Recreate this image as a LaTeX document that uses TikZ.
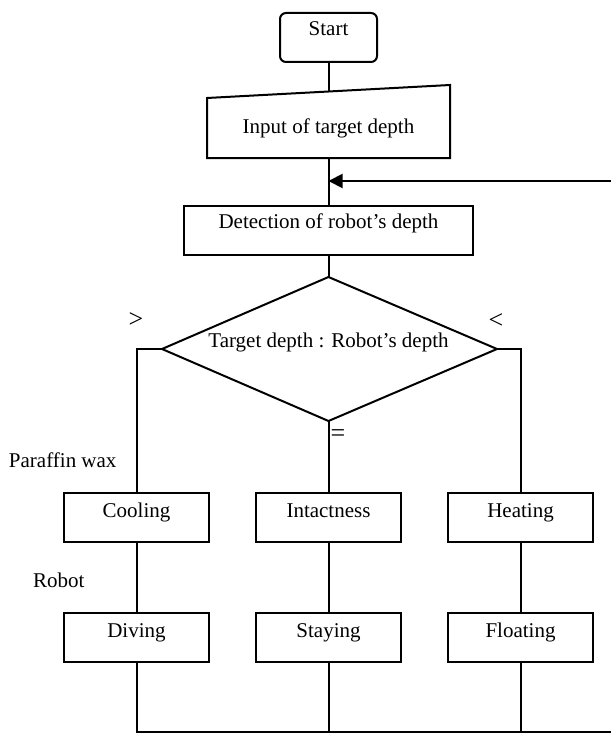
\documentclass[tikz,border=0pt]{standalone}
\usepackage{fontspec}
\setmainfont{Liberation Serif}
\usetikzlibrary{arrows.meta,calc}
\begin{document}
\begin{tikzpicture}[x=1pt,y=-1pt,line width=2pt,
  every node/.style={font=\fontsize{21}{25}\selectfont,inner sep=0pt},
  boxA/.style={draw,rectangle,text height=24pt,text depth=25pt,minimum width=145pt,anchor=base},
  lbl/.style={anchor=base west},
  sym/.style={font=\fontsize{26}{30}\selectfont}]
\useasboundingbox (0,0) rectangle (611,733);
% start
\node[draw,rounded corners=6pt,text height=23pt,text depth=26pt,minimum width=97pt,anchor=base] (start) at (328.5,36) {Start};
% input (trapezoid)
\node[rectangle,text height=34pt,text depth=24pt,minimum width=241pt,anchor=base] (input) at (328.5,133) {Input of target depth};
\draw (input.south west) -- (input.south east) -- ([yshift=13pt]input.north east) -- (input.north west) -- cycle;
\coordinate (intop) at ($(input.north)+(0,-6.5)$);
% detection
\node[draw,rectangle,text height=22pt,text depth=27pt,minimum width=289pt,anchor=base] (detect) at (328.5,228) {Detection of robot’s depth};
% decision diamond
\coordinate (dtop) at (328.5,277);
\coordinate (dleft) at (162,349);
\coordinate (dright) at (497,349);
\coordinate (dbot) at (328.5,421);
\draw (dtop) -- (dright) -- (dbot) -- (dleft) -- cycle;
\node[anchor=base] (dec) at (328.5,347) {Target depth : Robot’s depth};
% branch labels
\node[sym] (gt) at (136,320) {>};
\node[sym] (lt) at (496,321) {<};
\node[sym] (eq) at (338,436) {=};
\node[lbl] (paraffin) at (8,467) {Paraffin wax};
\node[lbl] (robot) at (32,587) {Robot};
% action boxes
\node[boxA] (cool) at (136.5,517) {Cooling};
\node[boxA] (intact) at (328.5,517) {Intactness};
\node[boxA] (heat) at (520.5,517) {Heating};
\node[boxA] (dive) at (136.5,637) {Diving};
\node[boxA] (stay) at (328.5,637) {Staying};
\node[boxA] (float) at (520.5,637) {Floating};
% feedback coordinates
\coordinate (fbin) at (611,181);
\coordinate (fbjoin) at (328.5,181);
\coordinate (fbout) at (611,732);
% connectors
\draw (start.south) -- (intop);
\draw (input.south) -- (detect.north);
\draw[-{Triangle[length=14pt,width=14pt]}] (fbin) -- (fbjoin);
\draw (detect.south) -- (dtop);
\draw (dleft) -| (cool.north);
\draw (dright) -| (heat.north);
\draw (dbot) -- (intact.north);
\draw (cool.south) -- (dive.north);
\draw (intact.south) -- (stay.north);
\draw (heat.south) -- (float.north);
\draw (dive.south) |- (fbout);
\draw (stay.south) -- (stay.south |- fbout);
\draw (float.south) -- (float.south |- fbout);
\end{tikzpicture}
\end{document}
